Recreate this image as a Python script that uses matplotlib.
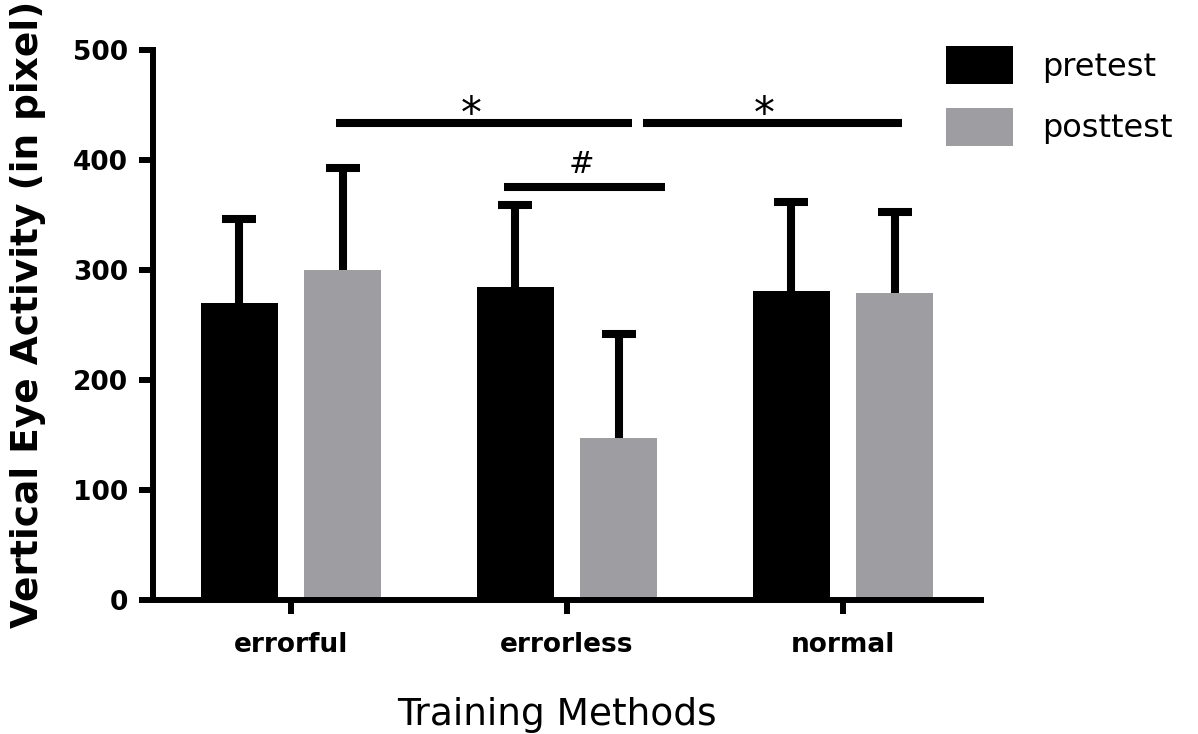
import numpy as np
import matplotlib.pyplot as plt
from matplotlib.patches import Patch

# group means and upper SD for the two test sessions
methods = ['errorful', 'errorless', 'normal']
pretest = [270, 285, 281]
posttest = [300, 147, 279]
pretest_sd = [76, 74, 81]
posttest_sd = [93, 95, 74]

# significance brackets: (x start, x end, height, symbol, symbol x)
sig_brackets = [
    (0.163, 1.236, 434, '*', 0.652),
    (1.275, 2.214, 434, '*', 1.714),
    (0.772, 1.355, 375, '#', 1.051),
]

black = '#000000'
grey = '#9e9ea2'

plt.rcParams['font.family'] = ['DejaVu Sans']

fig = plt.figure(figsize=(11.98, 7.34), dpi=100)
ax = fig.add_axes([153/1198, 1-600/734, 828/1198, 550/734])

x = np.arange(len(methods))
width = 0.28
off = 0.1875

ax.bar(x - off, pretest, width, color=black, zorder=2)
ax.bar(x + off, posttest, width, color=grey, zorder=2)

# only the upper half of each error bar is drawn
for xs, ys, sd in [(x - off, pretest, pretest_sd), (x + off, posttest, posttest_sd)]:
    eb = ax.errorbar(xs, ys, yerr=[np.zeros(3), sd], fmt='none',
                     ecolor=black, elinewidth=5.8, capsize=12.2,
                     capthick=5.8, zorder=1)
    eb.lines[1][0].set_visible(False)   # lower caps

for x0, x1, h, sym, sx in sig_brackets:
    ax.plot([x0, x1], [h, h], color=black, lw=5.8, solid_capstyle='butt',
            clip_on=False, zorder=3)
    if sym == '*':
        ax.text(sx, h - 12, sym, ha='center', va='bottom', fontsize=30,
                zorder=4, clip_on=False)
    else:
        ax.text(sx, h + 8, sym, ha='center', va='bottom', fontsize=22,
                zorder=4, clip_on=False)

ax.set_xlim(-0.5, 2.5)
ax.set_ylim(0, 500)
ax.set_yticks([0, 100, 200, 300, 400, 500])
ax.set_xticks(x)
ax.set_xticklabels(methods)

for s in ['top', 'right']:
    ax.spines[s].set_visible(False)
for s in ['left', 'bottom']:
    ax.spines[s].set_linewidth(4.3)
    ax.spines[s].set_capstyle('projecting')

ax.tick_params(axis='both', width=4.3, length=10, labelsize=19)
ax.tick_params(axis='x', pad=13)
ax.tick_params(axis='y', pad=8)
for lab in ax.get_xticklabels() + ax.get_yticklabels():
    lab.set_fontweight('bold')

fig.text(28/1198, 1-314/734, 'Vertical Eye Activity (in pixel)', rotation=90,
         ha='center', va='center', fontsize=27, fontweight='bold')
fig.text(557/1198, 1-715/734, 'Training Methods', ha='center', va='center',
         fontsize=27)

handles = [Patch(facecolor=black), Patch(facecolor=grey)]
fig.legend(handles, ['pretest', 'posttest'], loc='upper left',
           bbox_to_anchor=(930/1198, 1-30/734), frameon=False, fontsize=23,
           handlelength=2.1, handleheight=1.45, handletextpad=0.9,
           labelspacing=0.75, borderpad=0)

fig.savefig('out.png', dpi=100)
